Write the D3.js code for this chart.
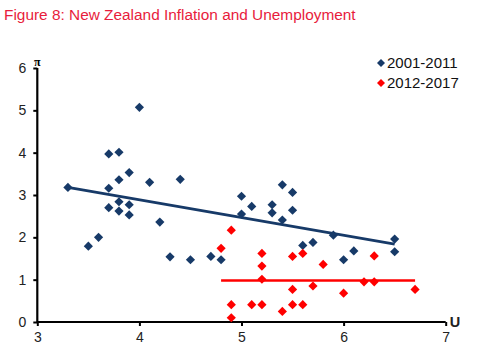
<!DOCTYPE html>
<html><head><meta charset="utf-8">
<script src="https://cdn.jsdelivr.net/npm/d3@7"></script>
<style>
body{margin:0;background:#fff;}
svg{display:block;font-family:"Liberation Sans",Arial,sans-serif;}
</style></head>
<body><svg id="c" width="481" height="360"></svg>
<script>
const title = "Figure 8: New Zealand Inflation and Unemployment";
const seriesNames = ["2001-2011", "2012-2017"];
const xTicks = [3, 4, 5, 6, 7];
const yTicks = [0, 1, 2, 3, 4, 5, 6];

const blueU  = [3.3,3.5,3.6,3.7,3.7,3.7,3.8,3.8,3.8,3.8,3.9,3.9,3.9,4.0,4.1,4.2,4.3,4.4,4.5,4.7,4.8,5.0,5.0,5.1,5.3,5.3,5.4,5.4,5.5,5.5,5.6,5.7,5.9,6.0,6.1,6.5,6.5];
const bluePi = [3.18,1.79,2.00,3.97,3.16,2.70,4.01,3.36,2.84,2.62,3.53,2.77,2.53,5.07,3.30,2.36,1.54,3.37,1.47,1.55,1.47,2.97,2.55,2.73,2.77,2.58,3.24,2.41,3.06,2.64,1.81,1.88,2.05,1.47,1.68,1.96,1.66];

const redU  = [4.8,4.9,4.9,4.9,5.1,5.2,5.2,5.2,5.2,5.4,5.5,5.5,5.5,5.6,5.6,5.7,5.8,6.0,6.2,6.3,6.3,6.7];
const redPi = [1.74,2.17,0.41,0.10,0.41,1.62,1.32,1.01,0.41,0.25,1.55,0.77,0.41,1.62,0.41,0.85,1.36,0.68,0.95,1.56,0.95,0.77];

const blueTrendU = [3.3, 6.5], blueTrendPi = [3.18, 1.84];
const redTrendU = [4.8, 6.7], redTrendPi = [0.98, 0.98];

const BLUE = "#173a68", RED = "#ff0000";

const svg = d3.select("#c");
const x = d3.scaleLinear().domain([3, 7]).range([37.3, 445.7]);
const y = d3.scaleLinear().domain([0, 6]).range([322, 68]);

svg.append("text").attr("x", 4).attr("y", 19.5).attr("font-size", 15.4)
  .attr("fill", "#e81c3c").text(title);

// axes
const ax = svg.append("g").attr("transform", `translate(0,${y(0)})`)
  .call(d3.axisBottom(x).tickValues(xTicks).tickSize(4).tickPadding(6).tickFormat(d3.format("d")));
const ay = svg.append("g").attr("transform", `translate(${x(3)},0)`)
  .call(d3.axisLeft(y).tickValues(yTicks).tickSize(4).tickPadding(7).tickFormat(d3.format("d")));
[ax, ay].forEach(g => {
  g.select(".domain").attr("stroke", "#000").attr("stroke-width", 2.2);
  g.selectAll(".tick line").attr("stroke", "#000").attr("stroke-width", 2);
  g.selectAll(".tick text").attr("font-size", 14).attr("fill", "#222")
    .attr("font-family", "Liberation Sans, Arial, sans-serif");
});
ax.select(".domain").attr("d", `M${x(3)},0H${x(7)}`);
ay.select(".domain").attr("d", `M0,${y(0)}V${y(6)}`);

svg.append("text").attr("x", x(3)).attr("y", y(6) - 2).attr("text-anchor", "middle")
  .attr("font-family", "Liberation Serif, serif").attr("font-weight", "bold")
  .attr("font-size", 12).attr("fill", "#000").text("π");
svg.append("text").attr("x", x(7) + 4).attr("y", y(0) + 5).attr("font-size", 14.5)
  .attr("font-weight", "bold").attr("fill", "#222").text("U");

const diamond = "M0,-4.6L4.6,0L0,4.6L-4.6,0Z";

function dots(U, P, col) {
  svg.append("g").selectAll("path").data(U.map((u, i) => [u, P[i]])).join("path")
    .attr("d", diamond).attr("fill", col)
    .attr("transform", d => `translate(${x(d[0])},${y(d[1])})`);
}
function trend(U, P, col) {
  svg.append("path").datum(U.map((u, i) => [u, P[i]]))
    .attr("d", d3.line().x(d => x(d[0])).y(d => y(d[1])))
    .attr("stroke", col).attr("stroke-width", 2.6).attr("fill", "none");
}
dots(blueU, bluePi, BLUE);
trend(blueTrendU, blueTrendPi, BLUE);
dots(redU, redPi, RED);
trend(redTrendU, redTrendPi, RED);

// legend
const lg = svg.append("g");
[[BLUE, 63], [RED, 83]].forEach(([c, yy], i) => {
  lg.append("path").attr("d", "M0,-4L4,0L0,4L-4,0Z").attr("fill", c)
    .attr("transform", `translate(381,${yy})`);
  lg.append("text").attr("x", 387).attr("y", yy + 5).attr("font-size", 15)
    .attr("fill", "#111").text(seriesNames[i]);
});
</script></body></html>
